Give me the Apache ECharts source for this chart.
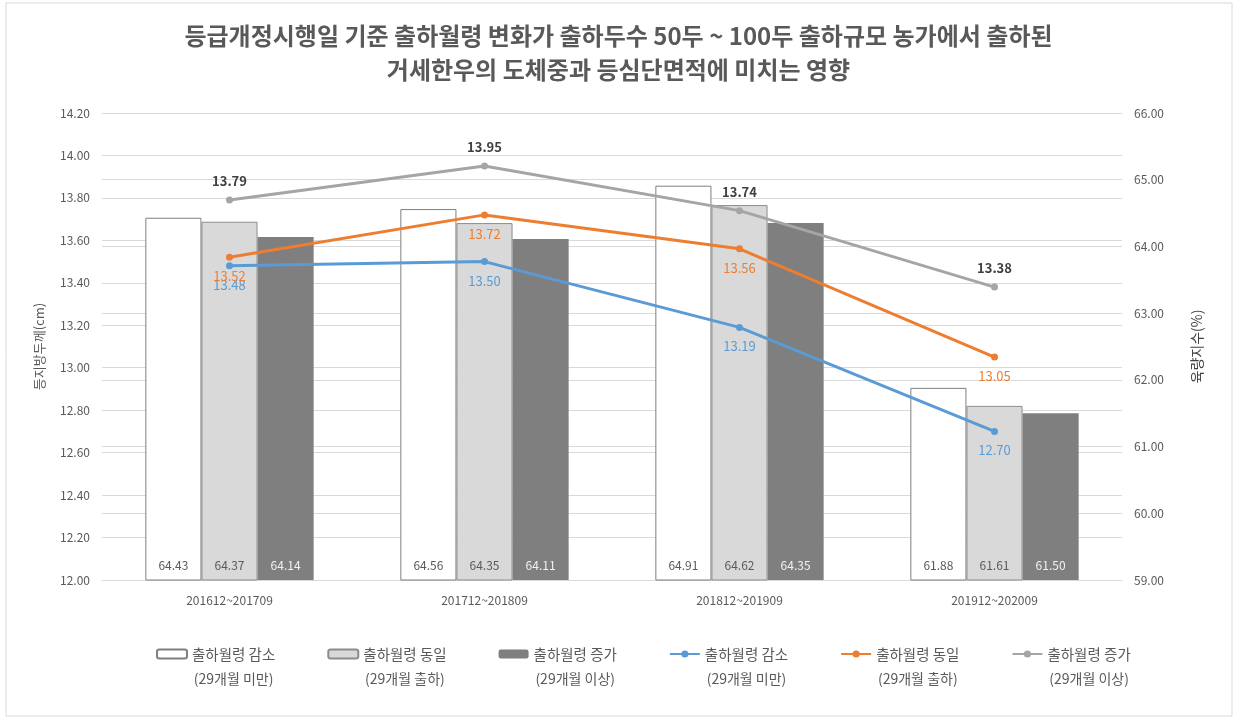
<!DOCTYPE html>
<html>
<head>
<meta charset="utf-8">
<script src="https://cdn.jsdelivr.net/npm/echarts@6/dist/echarts.min.js"></script>
<style>
  html, body { margin: 0; padding: 0; background: #fff; }
  #chart { width: 1237px; height: 719px; }
</style>
</head>
<body>
<div id="chart"></div>
<script>
// Shipping-period categories
const periods = ['201612~201709', '201712~201809', '201812~201909', '201912~202009'];

// Series names (first line / second line of the legend entry)
const groupNames = ['출하월령 감소', '출하월령 동일', '출하월령 증가'];
const groupAges = ['(29개월 미만)', '(29개월 출하)', '(29개월 이상)'];

// 육량지수(%) — bars, right axis
const yieldDecrease = [64.43, 64.56, 64.91, 61.88];
const yieldSame = [64.37, 64.35, 64.62, 61.61];
const yieldIncrease = [64.14, 64.11, 64.35, 61.50];

// 등지방두께(cm) — lines, left axis
const fatDecrease = [13.48, 13.50, 13.19, 12.70];
const fatSame = [13.52, 13.72, 13.56, 13.05];
const fatIncrease = [13.79, 13.95, 13.74, 13.38];

const FONT = '"Noto Sans CJK KR", "Noto Sans", sans-serif';
const TEXT = '#595959';
const GRID = '#d9d9d9';

const chart = echarts.init(document.getElementById('chart'), null, { renderer: 'canvas' });

// bar and line series share a visible name, so bar keys carry a zero-width suffix
const barKey = i => groupNames[i] + '\u200b';
const lineKey = i => groupNames[i];

function barSeries(i, data, color, border, labelColor) {
  return {
    name: barKey(i),
    type: 'bar',
    yAxisIndex: 1,
    data: data,
    barWidth: '22%',
    barGap: '0%',
    itemStyle: { color: color, borderColor: border, borderWidth: border ? 1 : 0 },
    label: {
      show: true,
      position: 'insideBottom',
      distance: 9,
      formatter: p => p.value.toFixed(2),
      color: labelColor,
      fontFamily: FONT,
      fontSize: 12
    },
    z: 2
  };
}

function lineSeries(i, data, color, labelPos, labelColor, bold) {
  return {
    name: lineKey(i),
    type: 'line',
    yAxisIndex: 0,
    data: data,
    symbol: 'circle',
    symbolSize: 7,
    lineStyle: { color: color, width: 3 },
    itemStyle: { color: color },
    label: {
      show: true,
      position: labelPos,
      distance: 9,
      formatter: p => p.value.toFixed(2),
      color: labelColor,
      fontFamily: FONT,
      fontSize: 13,
      fontWeight: bold ? 'bold' : 'normal'
    },
    z: 5
  };
}

const legendNames = [];
for (let i = 0; i < 3; i++) legendNames.push(barKey(i));
for (let i = 0; i < 3; i++) legendNames.push(lineKey(i));

const option = {
  backgroundColor: '#ffffff',
  animation: false,
  title: {
    text: '등급개정시행일 기준 출하월령 변화가 출하두수 50두 ~ 100두 출하규모 농가에서 출하된\n거세한우의 도체중과 등심단면적에 미치는 영향',
    left: 'center',
    top: 14,
    textStyle: {
      fontFamily: FONT,
      fontSize: 24,
      fontWeight: 'bold',
      color: TEXT,
      lineHeight: 34
    }
  },
  graphic: [{
    type: 'rect',
    shape: { x: 6, y: 3, width: 1226, height: 713 },
    style: { fill: 'none', stroke: '#d9d9d9', lineWidth: 1 },
    silent: true,
    z: -10
  }],
  grid: { left: 102, right: 115, top: 113, bottom: 139 },
  legend: {
    data: legendNames,
    bottom: 28,
    left: 151,
    itemGap: 52,
    itemWidth: 30,
    itemHeight: 9,
    formatter: name => {
      const idx = groupNames.indexOf(name.replace('\u200b', ''));
      return '{a|' + groupNames[idx] + '}\n{b|' + groupAges[idx] + '}';
    },
    textStyle: {
      fontFamily: FONT,
      color: TEXT,
      padding: [25, 0, 0, 0],
      rich: {
        a: { fontFamily: FONT, fontSize: 14.5, color: TEXT, lineHeight: 25 },
        b: { fontFamily: FONT, fontSize: 14, color: TEXT, lineHeight: 25, align: 'center' }
      }
    }
  },
  xAxis: {
    type: 'category',
    data: periods,
    axisLine: { show: true, lineStyle: { color: GRID } },
    axisTick: { show: false },
    axisLabel: { color: TEXT, fontFamily: FONT, fontSize: 12, margin: 14 }
  },
  yAxis: [
    {
      type: 'value',
      min: 12.0,
      max: 14.2,
      interval: 0.2,
      name: '등지방두께(cm)',
      nameLocation: 'middle',
      nameRotate: 90,
      nameGap: 56,
      nameTextStyle: { color: TEXT, fontFamily: FONT, fontSize: 13 },
      axisLine: { show: false },
      axisTick: { show: false },
      axisLabel: { color: TEXT, fontFamily: FONT, fontSize: 12, margin: 12, formatter: v => v.toFixed(2) },
      splitLine: { show: true, lineStyle: { color: GRID, width: 1 } }
    },
    {
      type: 'value',
      min: 59,
      max: 66,
      interval: 1,
      name: '육량지수(%)',
      nameLocation: 'middle',
      nameRotate: 90,
      nameGap: 68,
      nameTextStyle: { color: '#404040', fontFamily: FONT, fontSize: 14 },
      axisLine: { show: false },
      axisTick: { show: false },
      axisLabel: { color: TEXT, fontFamily: FONT, fontSize: 12, margin: 12, formatter: v => v.toFixed(2) },
      splitLine: { show: true, lineStyle: { color: GRID, width: 1 } }
    }
  ],
  series: [
    barSeries(0, yieldDecrease, '#ffffff', '#7f7f7f', TEXT),
    barSeries(1, yieldSame, '#d9d9d9', '#8c8c8c', TEXT),
    barSeries(2, yieldIncrease, '#7f7f7f', null, '#f2f2f2'),
    lineSeries(0, fatDecrease, '#5b9bd5', 'bottom', '#5b9bd5', false),
    lineSeries(1, fatSame, '#ed7d31', 'bottom', '#ed7d31', false),
    lineSeries(2, fatIncrease, '#a5a5a5', 'top', '#404040', true)
  ]
};

chart.setOption(option);
</script>
</body>
</html>
